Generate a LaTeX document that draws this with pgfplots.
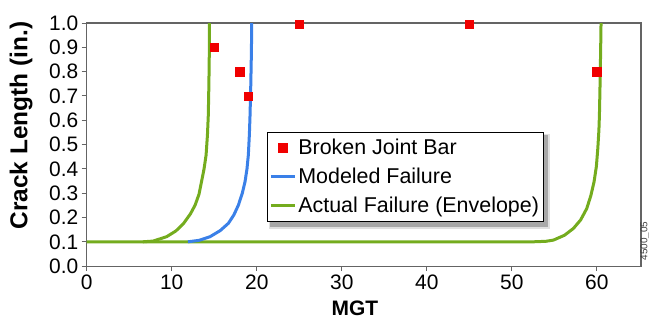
\documentclass[border=0pt]{standalone}
\usepackage{fontspec}
\setmainfont{Liberation Sans}
\usepackage{pgfplots}
\pgfplotsset{compat=1.18}
\pgfdeclarelayer{background}
\pgfsetlayers{background,main}
\definecolor{cgreen}{RGB}{116,172,30}
\definecolor{cblue}{RGB}{58,128,232}
\definecolor{cred}{RGB}{240,0,0}
\definecolor{caxis}{RGB}{100,100,100}
\begin{document}
\begin{tikzpicture}
\begin{axis}[
  scale only axis, width=554bp, height=243bp,
  xmin=0, xmax=65.2, ymin=0, ymax=1,
  xtick={0,10,20,30,40,50,60},
  ytick={0,0.1,0.2,0.3,0.4,0.5,0.6,0.7,0.8,0.9,1.0},
  yticklabel style={/pgf/number format/.cd, fixed, fixed zerofill, precision=1},
  /pgf/number format/assume math mode=true,
  tick label style={font=\fontsize{21}{25}\selectfont},
  axis line style={caxis, line width=1.2bp},
  tick style={caxis, line width=1bp},
  tick align=outside, major tick length=5bp,
  xtick pos=bottom, ytick pos=left,
  xlabel={\bfseries MGT},
  ylabel={\bfseries Crack Length (in.)},
  xlabel style={font=\fontsize{21}{25}\selectfont, at={(axis description cs:0.484,-0.172)}, anchor=center, inner sep=0pt},
  ylabel style={font=\fontsize{24.5}{28}\selectfont, at={(axis description cs:-0.1186,0.578)}, anchor=center, inner sep=0pt},
  clip mode=individual,
  reverse legend,
  legend image code/.code={\draw[mark repeat=2,mark phase=2,#1] plot coordinates {(0bp,0bp) (12bp,0bp) (24bp,0bp)};},
  legend style={name=leg, at={(0.3255,0.551)}, anchor=north west, draw=none, fill=white,
    font=\fontsize{21.5}{26}\selectfont, inner xsep=2bp, inner ysep=5bp, row sep=8bp,
    /tikz/every even column/.append style={column sep=0bp}},
  legend cell align=left,
]
\addplot[cgreen, line width=3bp, line join=round, forget plot] coordinates {
 (6.6,0.1) (7.8,0.103) (9.4,0.121) (10.5,0.145) (11.4,0.176) (12.2,0.215) (12.75,0.251)
 (13.2,0.295) (13.5,0.347) (13.8,0.40) (14.04,0.457) (14.2,0.54) (14.3,0.621) (14.37,0.75)
 (14.42,0.88) (14.43,1.0)};
\addplot[cgreen, line width=3bp, line join=round] coordinates {
 (0,0.1) (52.5,0.1) (54.0,0.102) (54.9,0.107) (56.2,0.127) (57.25,0.155) (58.1,0.19)
 (58.82,0.237) (59.3,0.29) (59.68,0.347) (59.95,0.41) (60.12,0.484) (60.25,0.56)
 (60.31,0.621) (60.39,0.758) (60.45,0.88) (60.5,1.0)};
\addlegendentry{Actual Failure (Envelope)}
\addplot[cblue, line width=3bp, line join=round] coordinates {
 (11.9,0.1) (13.2,0.106) (14.5,0.121) (15.7,0.146) (16.66,0.176) (17.3,0.21) (17.84,0.251)
 (18.3,0.30) (18.62,0.347) (18.85,0.40) (19.01,0.457) (19.13,0.54) (19.21,0.621)
 (19.3,0.75) (19.37,0.88) (19.41,1.0)};
\addlegendentry{Modeled Failure}
\addplot[only marks, mark=square*, mark size=4.2bp, cred, draw=cred, fill=cred] coordinates {
 (15,0.9) (18,0.8) (19,0.7) (25,0.995) (45,0.995) (60,0.8)};
\addlegendentry{Broken Joint Bar}
\end{axis}
\begin{pgfonlayer}{background}
\fill[black, opacity=0.12] ([xshift=2bp,yshift=-7bp]leg.south west) rectangle ([xshift=7bp,yshift=-2bp]leg.north east);
\fill[black, opacity=0.25] ([xshift=3bp,yshift=-5bp]leg.south west) rectangle ([xshift=5bp,yshift=-3bp]leg.north east);
\end{pgfonlayer}
\draw[black, line width=1.3bp] (leg.south west) rectangle (leg.north east);
\node[rotate=90, font=\fontsize{10}{12}\selectfont, text=darkgray, anchor=center] at ([xshift=4bp,yshift=25bp]current axis.south east) {4500\_05};
\pgfresetboundingbox
\path ([xshift=-86.7bp,yshift=-54bp]current axis.south west) rectangle ([xshift=8bp,yshift=23bp]current axis.north east);
\end{tikzpicture}
\end{document}
